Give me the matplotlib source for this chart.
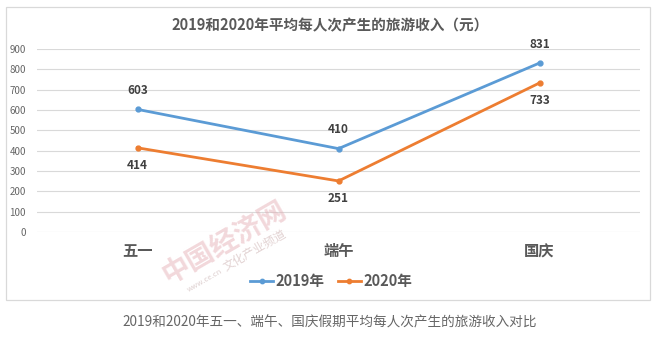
import matplotlib
matplotlib.use("Agg")
import matplotlib.pyplot as plt
from matplotlib.patches import Rectangle

plt.rcParams['font.family'] = ['Noto Sans CJK SC', 'DejaVu Sans']

categories = ['五一', '端午', '国庆']
income_2019 = [603, 410, 831]
income_2020 = [414, 251, 733]
series_names = ['2019年', '2020年']
yticks = [0, 100, 200, 300, 400, 500, 600, 700, 800, 900]

title = '2019和2020年平均每人次产生的旅游收入（元）'
caption = '2019和2020年五一、端午、国庆假期平均每人次产生的旅游收入对比'

blue = '#5b9bd5'
orange = '#ed7d31'
text_gray = '#595959'

fig = plt.figure(figsize=(6.6, 3.39), dpi=100)
fig.patch.set_facecolor('white')

# chart frame
fig.patches.append(Rectangle((6 / 660, 1 - 300 / 339), 644 / 660, 293 / 339,
                             transform=fig.transFigure, fill=False,
                             edgecolor='#d9d9d9', linewidth=0.9))

ax = fig.add_axes([37 / 660, 1 - 232 / 339, 603 / 660, 183 / 339])
x = list(range(len(categories)))

ax.plot(x, income_2019, color=blue, lw=2, marker='o', ms=3.5, label=series_names[0], zorder=3)
ax.plot(x, income_2020, color=orange, lw=2, marker='o', ms=3.5, label=series_names[1], zorder=3)

for xi, v in zip(x, income_2019):
    ax.annotate(str(v), (xi, v), xytext=(0, 9), textcoords='offset points',
                ha='center', va='bottom', fontsize=8.5, fontweight='bold', color='#404040')
for xi, v in zip(x, income_2020):
    ax.annotate(str(v), (xi, v), xytext=(0, -8), textcoords='offset points',
                ha='center', va='top', fontsize=8.5, fontweight='bold', color='#404040')

ax.set_xlim(-0.5, len(categories) - 0.5)
ax.set_ylim(0, 900)
ax.set_yticks(yticks)
ax.yaxis.grid(True, color='#d9d9d9', lw=0.8)
ax.set_axisbelow(True)
for s in ax.spines.values():
    s.set_visible(False)
ax.tick_params(axis='y', length=0, labelsize=7, labelcolor='#666666', pad=8)
ax.set_xticks(x)
ax.set_xticklabels(categories, fontsize=11, color=text_gray, fontweight='bold')
ax.tick_params(axis='x', length=0, pad=8)

fig.text(0.5, 1 - 25 / 339, title, ha='center', va='center', fontsize=10.5,
         fontweight='bold', color=text_gray)

# faint watermark
fig.text(225 / 660, 1 - 243 / 339, '中国经济网', rotation=30, ha='center', va='center',
         fontsize=20, color='#e3a9b0', alpha=0.45, fontweight='bold')
fig.text(255 / 660, 1 - 250 / 339, '文化产业频道', rotation=30, ha='center', va='center',
         fontsize=8.5, color='#cfb5b5', alpha=0.6)
fig.text(205 / 660, 1 - 280 / 339, 'www.ce.cn', rotation=30, ha='center', va='center',
         fontsize=5.5, color='#c8b0b0', alpha=0.6)

fig.legend(loc='center', bbox_to_anchor=(331 / 660, 1 - 281 / 339), ncol=2, frameon=False,
           prop={'size': 10.5, 'weight': 'bold'}, handlelength=1.6, columnspacing=0.9,
           handletextpad=0.15, labelcolor=text_gray, markerscale=0.9)

fig.text(0.5, 1 - 322 / 339, caption, ha='center', va='center', fontsize=9.8, color='#666666')

fig.savefig('out.png', dpi=100)
